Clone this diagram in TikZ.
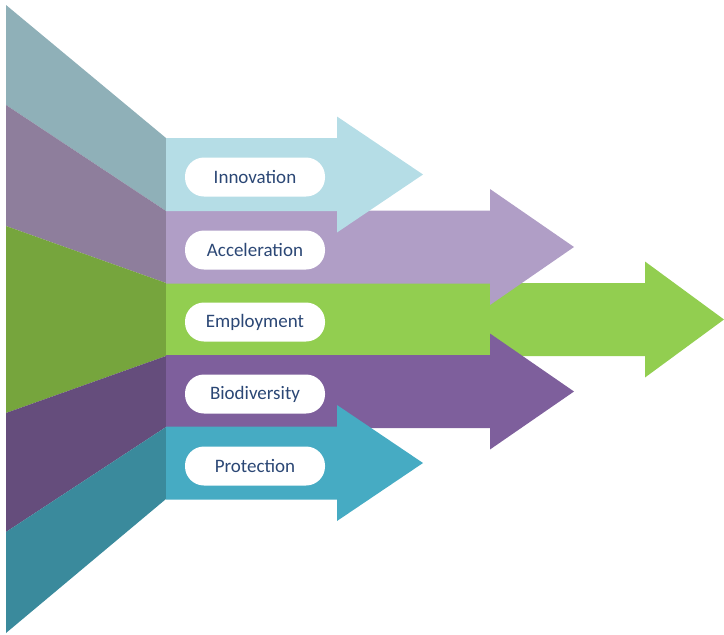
\documentclass[tikz,border=0pt]{standalone}
\usepackage{fontspec}
\setmainfont{Carlito}
\definecolor{cInnoL}{HTML}{8FB0B8}
\definecolor{cInno}{HTML}{B5DDE6}
\definecolor{cAccL}{HTML}{8E7E9C}
\definecolor{cAcc}{HTML}{B09EC6}
\definecolor{cEmpL}{HTML}{76A53D}
\definecolor{cEmp}{HTML}{92CE50}
\definecolor{cBioL}{HTML}{654D7C}
\definecolor{cBio}{HTML}{7E5F9C}
\definecolor{cProL}{HTML}{3A8A9C}
\definecolor{cPro}{HTML}{46ABC3}
\definecolor{txt}{HTML}{2B4775}
\tikzset{
  pill/.style={fill=white, rounded corners=19pt, minimum width=140pt, minimum height=39pt, inner sep=0pt, text=txt, font=\fontsize{19pt}{22pt}\selectfont},
}
% arrow: #1 colour, #2 centre y, #3 head base x, #4 tip x
\newcommand{\bigarrow}[4]{%
  \fill[#1] (166,#2-36.5) -- (#3,#2-36.5) -- (#3,#2-58) -- (#4,#2) -- (#3,#2+58) -- (#3,#2+36.5) -- (166,#2+36.5) -- cycle;}
\begin{document}
\begin{tikzpicture}[x=1pt,y=-1pt]
\useasboundingbox (0,0) rectangle (724,635);
% left panels
\fill[cInnoL] (6,5) -- (166,138) -- (166,211) -- (6,105) -- cycle;
\fill[cAccL] (6,105) -- (166,211) -- (166,283) -- (6,226) -- cycle;
\fill[cEmpL] (6,226) -- (166,283) -- (166,356) -- (6,413) -- cycle;
\fill[cBioL] (6,413) -- (166,356) -- (166,427) -- (6,532) -- cycle;
\fill[cProL] (6,532) -- (166,427) -- (166,499) -- (6,633) -- cycle;
% arrows (drawing order for overlaps)
\bigarrow{cEmp}{319.5}{645}{724}
\bigarrow{cAcc}{247}{490}{574}
\bigarrow{cBio}{391.5}{490}{574}
\bigarrow{cInno}{174.5}{337}{423}
\bigarrow{cPro}{463}{337}{423}
% labels
\node[pill] (inno) at (255,177) {Innovation};
\node[pill] (acc) at (255,250) {Acceleration};
\node[pill] (emp) at (255,322) {Employment};
\node[pill] (bio) at (255,394) {Biodiversity};
\node[pill] (pro) at (255,466) {Protection};
\end{tikzpicture}
\end{document}
